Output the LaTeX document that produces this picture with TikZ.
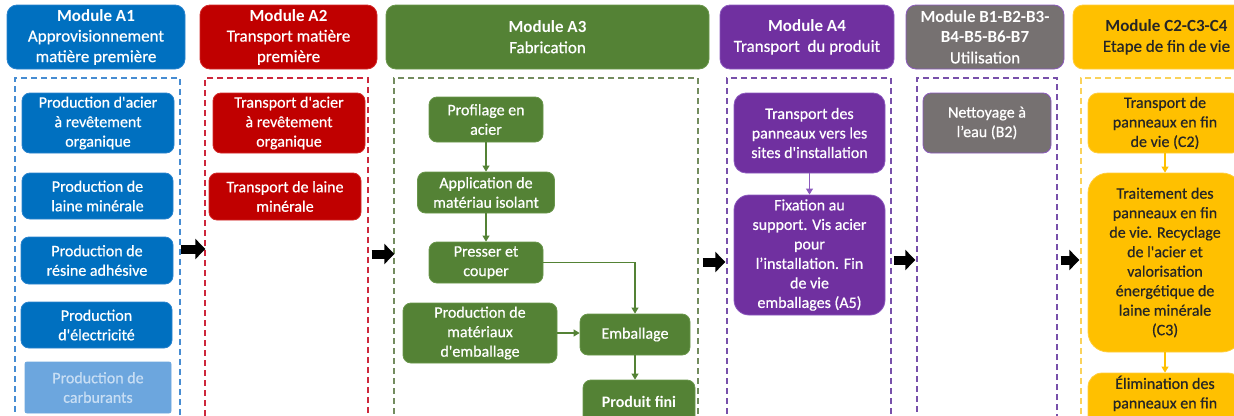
\documentclass[tikz,border=0pt]{standalone}
\usepackage{fontspec}
\setmainfont{Carlito}[UprightFeatures={FakeBold=0.6}]
\usetikzlibrary{arrows.meta}
\definecolor{cblue}{RGB}{0,112,192}
\definecolor{cblueb}{RGB}{40,130,205}
\definecolor{cbluedash}{RGB}{70,140,210}
\definecolor{cfade}{RGB}{108,166,222}
\definecolor{cfadetext}{RGB}{200,222,244}
\definecolor{cred}{RGB}{192,0,0}
\definecolor{credb}{RGB}{210,40,40}
\definecolor{creddash}{RGB}{205,40,60}
\definecolor{cgreen}{RGB}{84,130,53}
\definecolor{cgreenb}{RGB}{105,150,75}
\definecolor{cgreendash}{RGB}{115,140,95}
\definecolor{cpurple}{RGB}{112,48,160}
\definecolor{cpurpleb}{RGB}{140,90,190}
\definecolor{cpurpledash}{RGB}{120,80,170}
\definecolor{cgray}{RGB}{118,113,113}
\definecolor{cgold}{RGB}{255,192,0}
\definecolor{cgoldb}{RGB}{255,205,60}
\definecolor{cgolddash}{RGB}{250,210,90}
\definecolor{cdark}{RGB}{38,38,38}
\begin{document}
\begin{tikzpicture}[x=1pt,y=-1pt,
  hdr/.style={rounded corners=10pt, align=center, inner sep=0pt, line width=0.8pt,
    minimum height=64pt, text=white, font=\fontsize{17}{20.5}\selectfont},
  box/.style={rounded corners=8pt, align=center, inner sep=0pt, line width=0.8pt,
    text=white, font=\fontsize{16}{19.5}\selectfont},
  zone/.style={dash pattern=on 6pt off 4pt, line width=1.4pt, minimum height=352pt, inner sep=0pt},
  bigarrow/.style={line width=9pt, -{Triangle[length=10pt,width=20pt]}, black},
  link/.style={line width=1.1pt, -{Triangle[length=6pt,width=7pt]}}
]
\useasboundingbox (0,0) rectangle (1234,415);
\clip (0,0) rectangle (1234,415);

% headers
\node[hdr, fill=cblue, draw=cblueb, minimum width=178pt] (hA1) at (96,37)
  {\textbf{Module A1}\\Approvisionnement\\matière première};
\node[hdr, fill=cred, draw=credb, minimum width=177pt] (hA2) at (288.5,37)
  {\textbf{Module A2}\\Transport matière\\première};
\node[hdr, fill=cgreen, draw=cgreenb, minimum width=323pt] (hA3) at (547.5,37)
  {\textbf{Module A3}\\Fabrication};
\node[hdr, fill=cpurple, draw=cpurpleb, minimum width=174pt] (hA4) at (807,37)
  {\textbf{Module A4}\\Transport\ \ du produit};
\node[hdr, fill=cgray, draw=cpurpleb, minimum width=158pt] (hB) at (985,37)
  {\textbf{Module B1-B2-B3-}\\\textbf{B4-B5-B6-B7}\\Utilisation};
\node[hdr, fill=cgold, draw=cgoldb, text=cdark, minimum width=187pt] (hC) at (1166.5,37)
  {\textbf{Module C2-C3-C4}\\Etape de fin de vie};

% dashed zones
\node[zone, draw=cbluedash, minimum width=165pt] (dA1) at (97.5,254) {};
\node[zone, draw=creddash, minimum width=163pt] (dA2) at (286.5,254) {};
\node[zone, draw=cgreendash, minimum width=304pt] (dA3) at (546,254) {};
\node[zone, draw=cpurpledash, minimum width=164pt] (dA4) at (809,254) {};
\node[zone, draw=cpurpledash, minimum width=140pt] (dB) at (987,254) {};
\node[zone, draw=cgolddash, minimum width=179pt] (dC) at (1170.5,254) {};

% A1
\node[box, fill=cblue, draw=cblueb, minimum width=152pt, minimum height=60pt] (b1) at (98,123)
  {Production d\textquotesingle acier\\à revêtement\\organique};
\node[box, fill=cblue, draw=cblueb, minimum width=151pt, minimum height=46pt] (b2) at (97.5,196)
  {Production de\\laine minérale};
\node[box, fill=cblue, draw=cblueb, minimum width=152pt, minimum height=47pt] (b3) at (97,260.5)
  {Production de\\résine adhésive};
\node[box, fill=cblue, draw=cblueb, minimum width=151pt, minimum height=46pt] (b4) at (96.5,325)
  {Production\\d\textquotesingle électricité};
\node[box, rounded corners=2pt, fill=cfade, draw=cfade, text=cfadetext, minimum width=146pt, minimum height=51pt] (b5) at (98,387.5)
  {Production de\\carburants};

% A2
\node[box, fill=cred, draw=credb, minimum width=152pt, minimum height=60pt] (r1) at (289,123)
  {Transport d\textquotesingle acier\\à revêtement\\organique};
\node[box, fill=cred, draw=credb, minimum width=152pt, minimum height=47pt] (r2) at (285,196.5)
  {Transport de laine\\minérale};

% A3
\node[box, fill=cgreen, draw=cgreenb, minimum width=114pt, minimum height=45pt] (g1) at (486,119.5)
  {Profilage en\\acier};
\node[box, fill=cgreen, draw=cgreenb, minimum width=137pt, minimum height=41pt] (g2) at (486,192.5)
  {Application de\\matériau isolant};
\node[box, fill=cgreen, draw=cgreenb, minimum width=114pt, minimum height=41pt] (g3) at (486,262.5)
  {Presser et\\couper};
\node[box, fill=cgreen, draw=cgreenb, minimum width=154pt, minimum height=60pt] (g4) at (480,333)
  {Production de\\matériaux\\d\textquotesingle emballage};
\node[box, fill=cgreen, draw=cgreenb, minimum width=110pt, minimum height=41pt] (g5) at (635,334.5)
  {Emballage};
\node[box, fill=cgreen, draw=cgreenb, minimum width=112pt, minimum height=44pt] (g6) at (639,402)
  {\textbf{Produit fini}};

% A4
\node[box, rounded corners=12pt, fill=cpurple, draw=cpurpleb, minimum width=151pt, minimum height=80pt] (p1) at (809.5,133)
  {Transport des\\panneaux vers les\\sites d\textquotesingle installation};
\node[box, rounded corners=15pt, fill=cpurple, draw=cpurpleb, minimum width=151pt, minimum height=120pt] (p2) at (809.5,255)
  {Fixation au\\support. Vis acier\\pour\\l’installation. Fin\\de vie\\emballages (A5)};

% B
\node[box, fill=cgray, draw=cpurpleb, minimum width=128pt, minimum height=60pt] (n1) at (987,123)
  {Nettoyage à\\l’eau (B2)};

% C
\node[box, rounded corners=10pt, fill=cgold, draw=cgoldb, text=cdark, minimum width=154pt, minimum height=60pt] (y1) at (1165,123)
  {Transport de\\panneaux en fin\\de vie (C2)};
\node[box, rounded corners=20pt, fill=cgold, draw=cgoldb, text=cdark, minimum width=154pt, minimum height=179pt] (y2) at (1165,262.5)
  {Traitement des\\panneaux en fin\\de vie. Recyclage\\de l\textquotesingle acier et\\valorisation\\énergétique de\\laine minérale\\(C3)};
\node[box, rounded corners=14pt, fill=cgold, draw=cgoldb, text=cdark, minimum width=154pt, minimum height=77pt] (y3) at (1165,411.5)
  {Élimination des\\panneaux en fin\\\phantom{x}\\\phantom{x}};

% big arrows between modules
\coordinate (ya) at (0,249);
\coordinate (yb) at (0,254);
\coordinate (yc) at (0,262);
\coordinate (yd) at (0,260);
\draw[bigarrow] (dA1.east |- ya) -- ([xshift=1pt]dA2.west |- ya);
\draw[bigarrow] ([xshift=3pt]dA2.east |- yb) -- ([xshift=1pt]dA3.west |- yb);
\draw[bigarrow] ([xshift=4pt]dA3.east |- yc) -- ([xshift=-1pt]dA4.west |- yc);
\draw[bigarrow] ([xshift=2pt]dA4.east |- yd) -- ([xshift=-1pt]dB.west |- yd);
\draw[bigarrow] ([xshift=3pt]dB.east |- yd) -- ([xshift=-1pt]dC.west |- yd);

% A3 links
\draw[link, cgreen] (g1.south) -- (g2.north);
\draw[link, cgreen] (g2.south) -- (g3.north);
\draw[link, cgreen] (g3.east) -| (g5.north);
\draw[link, cgreen] (g4.east) -- (g4.east -| g5.west);
\draw[link, cgreen] (g5.south) -- (g5.south |- g6.north);

% A4 link
\draw[link, cpurpleb] (p1.south) -- (p2.north);

% C links
\draw[link, cgold] (y1.south) -- (y2.north);
\draw[link, cgold] (y2.south) -- (y3.north);
\end{tikzpicture}
\end{document}
